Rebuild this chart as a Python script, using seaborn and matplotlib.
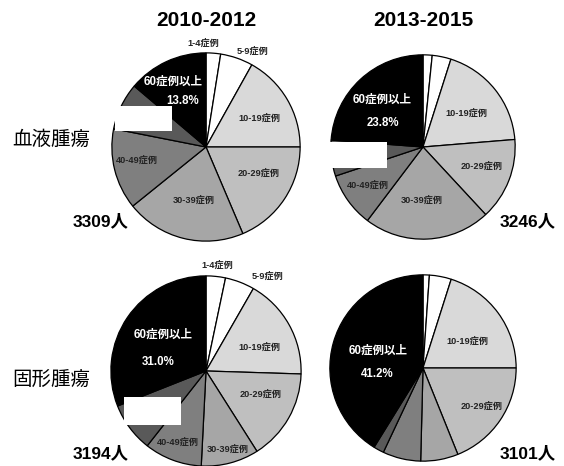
import matplotlib
matplotlib.use("Agg")
import matplotlib.pyplot as plt
import seaborn as sns
from matplotlib.patches import Rectangle

sns.set_theme(style="white")
plt.rcParams['font.family'] = ['Liberation Sans', 'Noto Sans CJK JP', 'DejaVu Sans']
plt.rcParams['text.color'] = 'black'

# ---- data ----
categories = ["1-4症例", "5-9症例", "10-19症例", "20-29症例", "30-39症例",
              "40-49症例", "50-59症例", "60症例以上"]
blood_2010 = [2.5, 5.6, 16.9, 18.6, 20.6, 13.9, 8.1, 13.8]
blood_2013 = [1.6, 3.3, 18.8, 14.4, 22.2, 9.6, 6.3, 23.8]
solid_2010 = [3.3, 5.0, 17.2, 15.5, 9.8, 9.8, 8.4, 31.0]
solid_2013 = [1.1, 3.8, 20.1, 18.9, 6.5, 6.6, 1.8, 41.2]
periods = ["2010-2012", "2013-2015"]
row_labels = ["血液腫瘍", "固形腫瘍"]
totals = ["3309人", "3246人", "3194人", "3101人"]

colors = ["#ffffff", "#ffffff", "#d9d9d9", "#bfbfbf", "#a6a6a6",
          "#7f7f7f", "#595959", "#000000"]

W, H = 564, 466
fig = plt.figure(figsize=(W / 100, H / 100), dpi=100)
fig.patch.set_facecolor("white")


def fx(x):
    return x / W


def fy(y):
    return 1 - y / H


def add_pie(values, cx, cy, r):
    ax = fig.add_axes([fx(cx - r), fy(cy + r), 2 * r / W, 2 * r / H])
    ax.pie(values, colors=colors, startangle=90, counterclock=False,
           wedgeprops=dict(edgecolor="black", linewidth=0.9))
    ax.set_xlim(-1.02, 1.02)
    ax.set_ylim(-1.02, 1.02)
    ax.set_aspect("equal")
    ax.axis("off")
    return ax


pies = [
    (blood_2010, 206, 147, 96),
    (blood_2013, 423, 147, 94),
    (solid_2010, 206, 371, 97),
    (solid_2013, 423, 368, 95),
]
for vals, cx, cy, r in pies:
    add_pie(vals, cx, cy, r)

# titles
fig.text(fx(206), fy(20), periods[0], ha="center", va="center",
         fontsize=15, fontweight="bold")
fig.text(fx(423), fy(20), periods[1], ha="center", va="center",
         fontsize=15, fontweight="bold")

# row labels
fig.text(fx(12), fy(140), row_labels[0], ha="left", va="center", fontsize=14)
fig.text(fx(12), fy(380), row_labels[1], ha="left", va="center", fontsize=14)

# totals
fig.text(fx(129), fy(221), totals[0], ha="right", va="center", fontsize=12.5, fontweight="bold")
fig.text(fx(556), fy(221), totals[1], ha="right", va="center", fontsize=12.5, fontweight="bold")
fig.text(fx(129), fy(453), totals[2], ha="right", va="center", fontsize=12.5, fontweight="bold")
fig.text(fx(556), fy(453), totals[3], ha="right", va="center", fontsize=12.5, fontweight="bold")


def small(x, y, s, color="#222222", size=6.6):
    fig.text(fx(x), fy(y), s, ha="center", va="center", fontsize=size,
             fontweight="bold", color=color)


def big(x, y, s):
    fig.text(fx(x), fy(y), s, ha="center", va="center", fontsize=8.3,
             fontweight="bold", color="white")


# top-left labels
small(203, 43, categories[0])
small(252, 51, categories[1])
small(259, 118, categories[2])
small(259, 173, categories[3])
small(194, 200, categories[4])
small(137, 160, categories[5])
big(173, 82, categories[7])
big(183, 101, f"{blood_2010[7]}%")

# top-right labels
small(466, 113, categories[2])
small(482, 166, categories[3])
small(422, 200, categories[4])
small(368, 185, categories[5])
big(382, 100, categories[7])
big(383, 123, f"{blood_2013[7]}%")

# bottom-left labels
small(217, 265, categories[0])
small(267, 276, categories[1])
small(259, 347, categories[2])
small(261, 394, categories[3])
small(228, 449, categories[4])
small(178, 442, categories[5])
big(163, 335, categories[7])
big(158, 362, f"{solid_2010[7]}%")

# bottom-right labels
small(467, 341, categories[2])
small(482, 406, categories[3])
big(378, 351, categories[7])
big(377, 374, f"{solid_2013[7]}%")

# white cover boxes
for (x0, y0, x1, y1) in [(115, 106, 172, 131), (329, 142, 387, 168), (124, 397, 181, 425)]:
    fig.patches.append(Rectangle((fx(x0), fy(y1)), (x1 - x0) / W, (y1 - y0) / H,
                                 transform=fig.transFigure, facecolor="white",
                                 edgecolor="none", zorder=10))

fig.savefig("out.png", dpi=100, facecolor="white")
